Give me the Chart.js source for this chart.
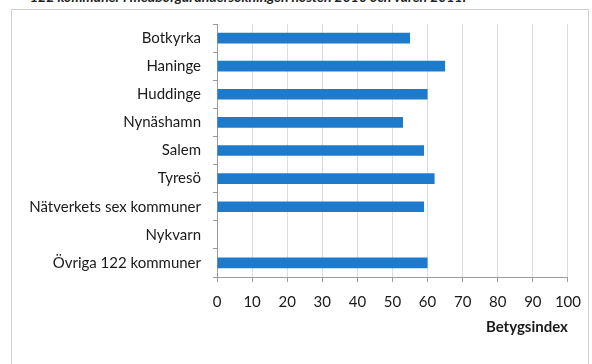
<!DOCTYPE html>
<html>
<head>
<meta charset="utf-8">
<script src="https://cdn.jsdelivr.net/npm/chart.js@4.4.0/dist/chart.umd.min.js"></script>
<style>
  html, body { margin: 0; padding: 0; background: #fff; overflow: hidden; }
  #wrap { position: relative; width: 592px; height: 364px; }
  #rubrik {
    position: absolute; left: 30px; top: -12px; white-space: nowrap;
    font: italic bold 14px Lato, sans-serif; color: #222;
  }
  #ram {
    position: absolute; left: 11px; top: 9px; width: 578px; height: 360px;
    border: 1px solid #d0d0d0; box-sizing: border-box;
  }
  #grafico { position: absolute; left: 0; top: 0; }
</style>
</head>
<body>
<div id="wrap">
  <div id="rubrik">122 kommuner i medborgarundersökningen hösten 2010 och våren 2011.</div>
  <div id="ram"></div>
  <canvas id="grafico" width="592" height="364"></canvas>
</div>
<script>
const kommuner = [
  "Botkyrka", "Haninge", "Huddinge", "Nynäshamn", "Salem",
  "Tyresö", "Nätverkets sex kommuner", "Nykvarn", "Övriga 122 kommuner"
];
const betygsindex = [55, 65, 60, 53, 59, 62, 59, null, 60];
const skalaMin = 0;
const skalaMax = 100;
const skalaSteg = 10;

const fonten = "Lato, 'Open Sans', sans-serif";

const ctx = document.getElementById("grafico").getContext("2d");
const chart = new Chart(ctx, {
  type: "bar",
  data: {
    labels: kommuner,
    datasets: [{
      label: "Betygsindex",
      data: betygsindex,
      backgroundColor: "#1e7bcb",
      borderWidth: 0,
      categoryPercentage: 1,
      barPercentage: 0.38
    }]
  },
  options: {
    indexAxis: "y",
    responsive: false,
    animation: false,
    layout: { padding: { top: 24, right: 20, left: 0, bottom: 28 } },
    plugins: {
      legend: { display: false },
      tooltip: { enabled: false }
    },
    scales: {
      x: {
        min: skalaMin,
        max: skalaMax,
        ticks: {
          stepSize: skalaSteg,
          color: "#1a1a1a",
          padding: 11,
          font: { family: fonten, size: 15 }
        },
        grid: { color: "#dcdcdc", tickLength: 5, tickColor: "#9a9a9a" },
        border: { color: "#9a9a9a" },
        title: {
          display: true,
          text: "Betygsindex",
          align: "end",
          color: "#1a1a1a",
          font: { family: fonten, size: 15, weight: "bold" },
          padding: { top: 0, bottom: 0 }
        },
        afterFit: scale => { scale.height = 364 - 28 - 277; }
      },
      y: {
        ticks: {
          color: "#1a1a1a",
          padding: 12,
          font: { family: fonten, size: 15 }
        },
        grid: { drawOnChartArea: false, tickLength: 4, color: "#9a9a9a" },
        border: { color: "#9a9a9a" },
        afterFit: scale => { scale.width = 217; }
      }
    }
  }
});
</script>
</body>
</html>
